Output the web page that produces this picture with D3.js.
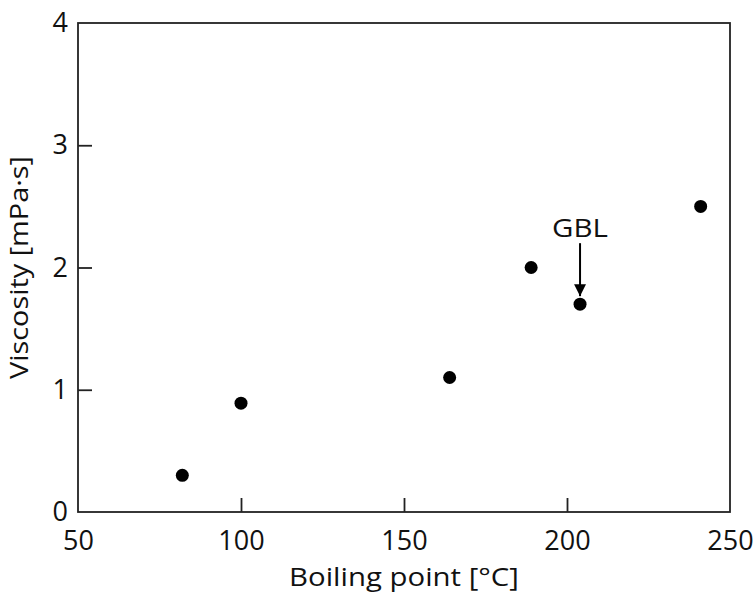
<!DOCTYPE html>
<html>
<head>
<meta charset="utf-8">
<script src="https://cdn.jsdelivr.net/npm/d3@7"></script>
<style>
  html, body { margin: 0; padding: 0; background: #fff; }
  svg text { font-family: "Open Sans", "Noto Sans", sans-serif; fill: #111; }
</style>
</head>
<body>
<svg id="chart" width="755" height="597"></svg>
<script>
// Solvent boiling point vs. viscosity
const boilingPoints = [82, 100, 164, 189, 204, 241];
const viscosities   = [0.3, 0.89, 1.1, 2.0, 1.7, 2.5];
const labels        = ["", "", "", "", "GBL", ""];
const xTicks = [50, 100, 150, 200, 250];
const yTicks = [0, 1, 2, 3, 4];

const margin = { left: 78, right: 25, top: 23, bottom: 85 };
const W = 755, H = 597;
const svg = d3.select("#chart");

const x = d3.scaleLinear().domain([50, 250]).range([margin.left, W - margin.right]);
const y = d3.scaleLinear().domain([0, 4]).range([H - margin.bottom, margin.top]);

const axisColor = "#222";
const tickLen = 14;
const tickFont = 27;

// frame
svg.append("rect")
  .attr("x", x(50)).attr("y", y(4))
  .attr("width", x(250) - x(50)).attr("height", y(0) - y(4))
  .attr("fill", "none").attr("stroke", axisColor).attr("stroke-width", 1.8);

// x axis (inward ticks)
const xAxis = svg.append("g")
  .attr("transform", `translate(0,${y(0)})`)
  .call(d3.axisBottom(x).tickValues(xTicks).tickSize(-tickLen).tickPadding(19).tickFormat(d3.format("d")));
xAxis.select(".domain").remove();
xAxis.selectAll(".tick line").attr("stroke", axisColor).attr("stroke-width", 1.8)
  .filter(d => d === 50 || d === 250).remove();
xAxis.selectAll(".tick text").attr("font-size", tickFont).attr("fill", "#111");

// y axis (inward ticks)
const yAxis = svg.append("g")
  .attr("transform", `translate(${x(50)},0)`)
  .call(d3.axisLeft(y).tickValues(yTicks).tickSize(-tickLen).tickPadding(10).tickFormat(d3.format("d")));
yAxis.select(".domain").remove();
yAxis.selectAll(".tick line").attr("stroke", axisColor).attr("stroke-width", 1.8)
  .filter(d => d === 0 || d === 4).remove();
yAxis.selectAll(".tick text").attr("font-size", tickFont).attr("fill", "#111");

// axis titles (slightly widened glyphs)
svg.append("text")
  .attr("transform", `translate(${(x(50) + x(250)) / 2},586) scale(1.13,1)`)
  .attr("text-anchor", "middle").attr("font-size", 26)
  .text("Boiling point [°C]");

svg.append("text")
  .attr("transform", `translate(28,${(y(0) + y(4)) / 2}) rotate(-90) scale(1.11,1)`)
  .attr("text-anchor", "middle").attr("font-size", 26)
  .text("Viscosity [mPa·s]");

// points
const points = boilingPoints.map((b, i) => ({ b, v: viscosities[i], label: labels[i] }));
svg.append("g").selectAll("circle")
  .data(points)
  .join("circle")
  .attr("cx", d => x(d.b)).attr("cy", d => y(d.v))
  .attr("r", 6.5).attr("fill", "#000");

// annotation arrow + label
svg.append("defs").append("marker")
  .attr("id", "arrowhead").attr("viewBox", "0 0 10 10")
  .attr("refX", 10).attr("refY", 5)
  .attr("markerWidth", 12).attr("markerHeight", 12)
  .attr("markerUnits", "userSpaceOnUse")
  .attr("orient", "auto")
  .append("path").attr("d", "M0,0 L10,5 L0,10 Z").attr("fill", "#000");

points.filter(d => d.label).forEach(d => {
  const cx = x(d.b), cy = y(d.v);
  svg.append("line")
    .attr("x1", cx).attr("y1", cy - 61)
    .attr("x2", cx).attr("y2", cy - 8)
    .attr("stroke", "#000").attr("stroke-width", 2)
    .attr("marker-end", "url(#arrowhead)");
  svg.append("text")
    .attr("transform", `translate(${cx},${cy - 67}) scale(1.18,1)`)
    .attr("text-anchor", "middle").attr("font-size", 25)
    .text(d.label);
});
</script>
</body>
</html>
